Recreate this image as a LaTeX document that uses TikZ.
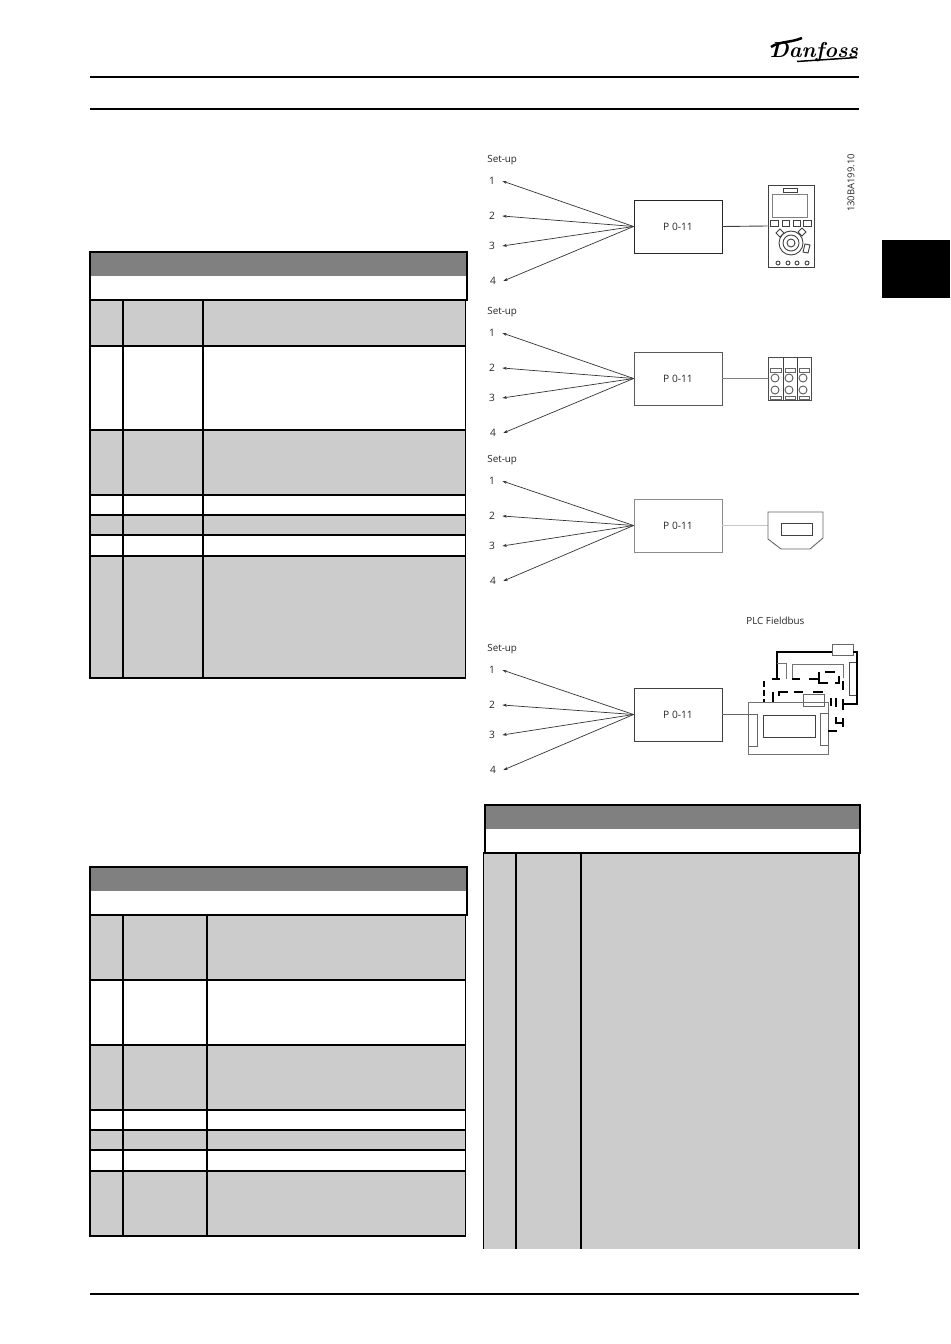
\documentclass[tikz,border=0pt]{standalone}
\usepackage{fontspec}
\setmainfont{Open Sans}
\usetikzlibrary{arrows.meta}
\definecolor{headgray}{HTML}{808080}
\definecolor{rowgray}{HTML}{CCCCCC}
\tikzset{
  rulefat/.style={line width=0.04cm},
  gridline/.style={line width=0.024cm},
  thinline/.style={line width=0.018cm,draw=black!75},
  paleline/.style={line width=0.022cm,draw=black!22},
  fatbus/.style={line width=0.032cm},
  setarrow/.style={line width=0.014cm,draw=black!80,-{Stealth[length=0.09cm,width=0.06cm]}},
  setlabel/.style={font=\fontsize{5.6}{7}\selectfont,text=black!85,inner sep=0pt,anchor=west},
  setnum/.style={font=\fontsize{5.8}{7}\selectfont,text=black!85,inner sep=4pt},
  parambox/.style={draw,line width=0.018cm,minimum width=1.76cm,minimum height=1.06cm,inner sep=0pt,font=\fontsize{5.8}{7}\selectfont,text=black!85},
  devbox/.style={draw,line width=0.018cm,inner sep=0pt}
}
\begin{document}
\begin{tikzpicture}[x=0.02cm,y=-0.02cm]
\useasboundingbox (0,0) rectangle (950,1344);

% Page rules
\draw [rulefat] (90,77) -- (859,77);
\draw [rulefat] (90,109) -- (859,109);
\draw [rulefat] (90,1294) -- (859,1294);

% Logo
\node (logo) at (814,52) [inner sep=0pt,font=\fontsize{12.3}{12}\selectfont] {\fontspec{Latin Modern Roman}\bfseries\itshape Danfoss};
\draw [line width=0.03cm] (797,61.5) -- (857,57.5);
\draw [line width=0.05cm] (771,47) .. controls (780,41) and (790,43) .. (802,38);

% Chapter tab
\fill [black] (882,240) rectangle (950,298);

% Table top left
\fill [headgray] (90,252) rectangle (467,276);
\draw [gridline] (90,300) -- (90,252) -- (467,252) -- (467,300) -- cycle;
\fill [rowgray] (90,300) rectangle (465.5,346);
\fill [rowgray] (90,430) rectangle (465.5,495);
\fill [rowgray] (90,515) rectangle (465.5,535);
\fill [rowgray] (90,556) rectangle (465.5,678);
\draw [gridline] (90,300) rectangle (465.5,678);
\foreach \yrow in {346,430,495,515,535,556}
  \draw [gridline] (90,\yrow) -- (465.5,\yrow);
\draw [gridline] (123,300) -- (123,678);
\draw [gridline] (203,300) -- (203,678);

% Table bottom left
\fill [headgray] (90,867) rectangle (467,891);
\draw [gridline] (90,915) -- (90,867) -- (467,867) -- (467,915) -- cycle;
\fill [rowgray] (90,915) rectangle (465.5,980);
\fill [rowgray] (90,1045) rectangle (465.5,1110);
\fill [rowgray] (90,1130) rectangle (465.5,1150);
\fill [rowgray] (90,1171) rectangle (465.5,1236);
\draw [gridline] (90,915) rectangle (465.5,1236);
\foreach \yrow in {980,1045,1110,1130,1150,1171}
  \draw [gridline] (90,\yrow) -- (465.5,\yrow);
\draw [gridline] (123,915) -- (123,1236);
\draw [gridline] (207,915) -- (207,1236);

% Table right
\fill [headgray] (485,805) rectangle (860,829);
\draw [gridline] (485,853) -- (485,805) -- (860,805) -- (860,853) -- cycle;
\fill [rowgray] (483.5,853) rectangle (859,1249);
\draw [gridline] (483.5,1249) -- (483.5,853) -- (860,853);
\draw [gridline] (859,853) -- (859,1249);
\draw [gridline] (516,853) -- (516,1249);
\draw [gridline] (581,853) -- (581,1249);

% Drawing number
\node (drawno) at (851,183) [rotate=90,inner sep=0pt,font=\fontsize{5.4}{7}\selectfont,text=black!85] {130BA199.10};

% Set-up 1: control panel
\node (setup1) at (487,160) [setlabel] {Set-up};
\node (s11) at (492,181) [setnum] {1};
\node (s12) at (492,216) [setnum] {2};
\node (s13) at (492,246) [setnum] {3};
\node (s14) at (493,281) [setnum] {4};
\node (p1) at (678,226.5) [parambox,draw=black!85] {P 0-11};
\draw [setarrow] (p1.west) -- (s11.east);
\draw [setarrow] (p1.west) -- (s12.east);
\draw [setarrow] (p1.west) -- (s13.east);
\draw [setarrow] (p1.west) -- (s14.east);
\node (pad) at (791,226) [devbox,draw=black!75,minimum width=0.92cm,minimum height=1.64cm] {};
\draw [thinline] (p1.east) -- (pad.west);
\draw [thinline] (783,188) rectangle (797,192);
\draw [thinline,draw=black!50] (772,194) rectangle (807,217);
\draw [thinline] (770,220) rectangle (778,226);
\draw [thinline] (782,220) rectangle (789,226);
\draw [thinline] (793,220) rectangle (800,226);
\draw [thinline] (803,220) rectangle (811,226);
\draw [thinline] (791,243) circle (12 and 12);
\draw [thinline] (791,243) circle (8 and 8);
\draw [thinline] (791,243) circle (4 and 4);
\draw [thinline] (776,233) -- (780,229) -- (784,233) -- (780,237) -- cycle;
\draw [thinline] (798,232) -- (802,228) -- (806,232) -- (802,236) -- cycle;
\draw [thinline] (803,252) -- (805,244) -- (810,245) -- (808,253) -- cycle;
\draw [thinline] (778,263) circle (2 and 2);
\draw [thinline] (788,263) circle (2 and 2);
\draw [thinline] (797,263) circle (2 and 2);
\draw [thinline] (807,263) circle (2 and 2);

% Set-up 2: terminals
\node (setup2) at (487,312) [setlabel] {Set-up};
\node (s21) at (492,333) [setnum] {1};
\node (s22) at (492,368) [setnum] {2};
\node (s23) at (492,398) [setnum] {3};
\node (s24) at (493,433) [setnum] {4};
\node (p2) at (678,378.5) [parambox,draw=black!65] {P 0-11};
\draw [setarrow] (p2.west) -- (s21.east);
\draw [setarrow] (p2.west) -- (s22.east);
\draw [setarrow] (p2.west) -- (s23.east);
\draw [setarrow] (p2.west) -- (s24.east);
\node (term) at (789.5,378.5) [devbox,draw=black!70,minimum width=0.86cm,minimum height=0.86cm] {};
\draw [thinline,draw=black!50] (p2.east) -- (term.west);
\draw [thinline] (783,357) -- (783,400);
\draw [thinline] (797,357) -- (797,400);
\foreach \xcol/\xa/\xb in {775/770/781,789/785/795,803/799/809}{
  \draw [thinline,draw=black!60] (\xa,368) rectangle (\xb,372);
  \draw [thinline,draw=black!60] (\xa,396) rectangle (\xb,399);
  \draw [thinline,draw=black!65] (\xcol,378) circle (4 and 4);
  \draw [thinline,draw=black!65] (\xcol,390) circle (4 and 4);
}

% Set-up 3: USB
\node (setup3) at (487,460) [setlabel] {Set-up};
\node (s31) at (492,481) [setnum] {1};
\node (s32) at (492,516) [setnum] {2};
\node (s33) at (492,546) [setnum] {3};
\node (s34) at (493,581) [setnum] {4};
\node (p3) at (678,525.5) [parambox,draw=black!45] {P 0-11};
\draw [setarrow] (p3.west) -- (s31.east);
\draw [setarrow] (p3.west) -- (s32.east);
\draw [setarrow] (p3.west) -- (s33.east);
\draw [setarrow] (p3.west) -- (s34.east);
\coordinate (usbin) at (768,525.5);
\draw [paleline] (p3.east) -- (usbin);
\draw [thinline,draw=black!60] (768,512) -- (823,512) -- (823,538) -- (810,549) -- (781,549) -- (768,539) -- cycle;
\draw [thinline] (781,523) rectangle (812,535);

% Set-up 4: fieldbus
\node (plctext) at (746,621) [setlabel] {PLC Fieldbus};
\node (setup4) at (487,649) [setlabel] {Set-up};
\node (s41) at (492,670) [setnum] {1};
\node (s42) at (492,705) [setnum] {2};
\node (s43) at (492,735) [setnum] {3};
\node (s44) at (493,770) [setnum] {4};
\node (p4) at (678,714.5) [parambox,draw=black!75] {P 0-11};
\draw [setarrow] (p4.west) -- (s41.east);
\draw [setarrow] (p4.west) -- (s42.east);
\draw [setarrow] (p4.west) -- (s43.east);
\draw [setarrow] (p4.west) -- (s44.east);
\node (plc) at (788,728) [devbox,draw=black!55,minimum width=1.6cm,minimum height=1.04cm] {};
\draw [thinline,draw=black!60] (p4.east) -- (p4.east -| plc.west);

% Front module
\draw [thinline,draw=black!60] (748,714) rectangle (757,746);
\draw [thinline,draw=black!60] (820,713) rectangle (828,745);
\draw [thinline] (763,715) rectangle (815,737);
\draw [thinline,draw=black!60] (803,694) rectangle (824,706);

% Back module
\draw [thinline,draw=black!60] (832,644) rectangle (853,655);
\draw [thinline,draw=black!70] (849,662) rectangle (857,695);
\draw [fatbus] (832,652) -- (777,652) -- (777,679);
\draw [fatbus] (853,652) -- (857,652) -- (857,704) -- (843,704);
\draw [thinline,draw=black!55] (777,663) -- (786,663) -- (786,679);
\draw [thinline,draw=black!55] (792,679) -- (792,664) -- (843,664) -- (843,678);

% Broken lines behind the front module
\draw [fatbus] (772,679) -- (780,679);
\draw [fatbus] (792,679) -- (800,679);
\draw [fatbus] (809,679) -- (819,679);
\draw [fatbus] (819,672) -- (819,683) -- (828,683);
\draw [fatbus] (825,672) -- (835,672);
\draw [fatbus] (839,676) -- (839,683) -- (835,683);
\draw [fatbus] (843,681) -- (843,690);
\draw [fatbus,dashed,dash pattern=on 0.12cm off 0.06cm] (764,681) -- (764,702);
\draw [fatbus] (773,692) -- (773,702);
\draw [fatbus] (779,696) -- (779,692) -- (788,692);
\draw [fatbus] (794,692) -- (803,692);
\draw [fatbus] (813,692) -- (823,692);
\draw [fatbus] (831,698) -- (831,706);
\draw [fatbus] (836,698) -- (836,707);
\draw [fatbus] (843,699) -- (843,710);
\draw [fatbus] (836,717) -- (836,723) -- (843,723);
\draw [fatbus] (843,718) -- (843,727);
\draw [fatbus] (828,731) -- (837,731);
\end{tikzpicture}
\end{document}
